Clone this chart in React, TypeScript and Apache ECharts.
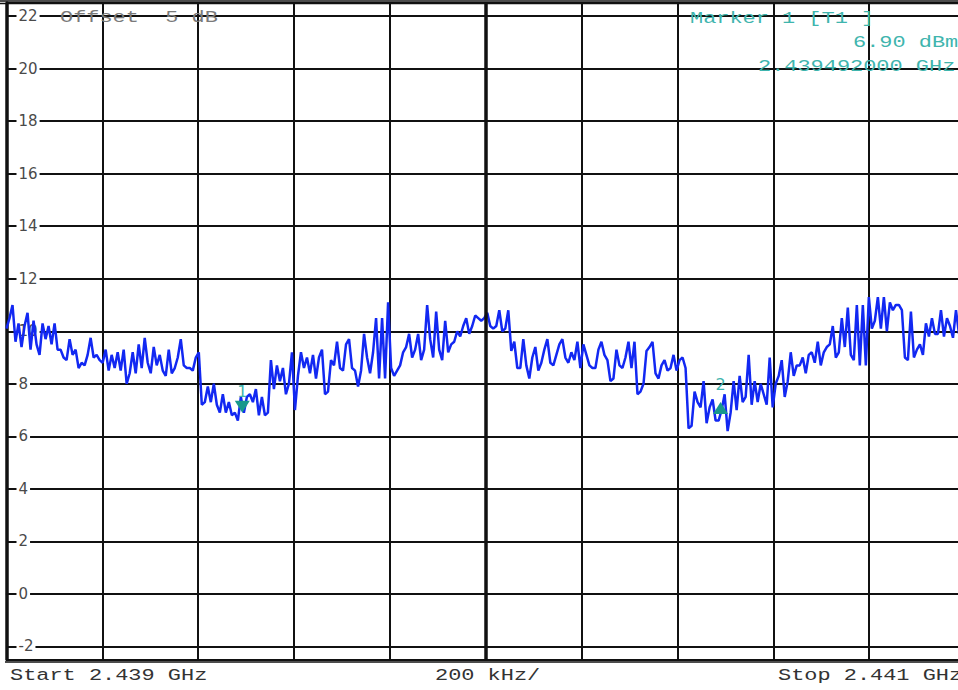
import React, { useEffect, useRef } from "react";
import * as echarts from "echarts";

// Sweep: 2.439 GHz .. 2.441 GHz, 200 kHz per division, trace levels in dBm
const START_GHZ = 2.439;
const SPAN_KHZ = 2000;
const DIV_KHZ = 200;

const levels: number[] = [
  10.1, 10.5, 11.0, 9.6, 10.3, 9.4, 10.2, 10.7, 9.3, 10.4,
  9.5, 9.1, 10.3, 9.7, 10.2, 9.5, 10.3, 9.3, 9.3, 9.0,
  8.9, 9.7, 9.1, 9.3, 8.6, 8.8, 8.7, 9.1, 9.75, 9.0,
  9.1, 8.9, 8.8, 9.3, 8.5, 9.1, 8.6, 9.2, 8.5, 9.3,
  8.0, 8.4, 9.2, 8.4, 9.5, 8.6, 9.75, 8.8, 8.4, 9.4,
  8.7, 9.1, 8.5, 8.3, 9.3, 8.4, 8.6, 9.0, 9.7, 8.7,
  8.6, 8.6, 8.5, 9.0, 9.2, 7.2, 7.3, 7.9, 7.3, 8.0,
  7.2, 6.9, 7.6, 6.9, 7.3, 6.8, 6.9, 6.6, 7.5, 6.9,
  7.5, 7.6, 7.3, 7.8, 6.8, 7.5, 6.8, 6.9, 8.9, 7.8,
  8.7, 8.1, 8.6, 7.6, 8.0, 9.2, 7.0, 8.3, 9.2, 8.6,
  9.0, 8.4, 9.1, 8.2, 9.0, 9.3, 7.6, 7.7, 8.9, 8.7,
  9.6, 8.6, 8.5, 9.5, 9.7, 8.6, 8.5, 7.9, 8.5, 9.9,
  9.0, 8.4, 9.2, 10.5, 8.2, 10.5, 8.2, 11.1, 8.6, 8.3,
  8.5, 8.7, 9.2, 9.4, 9.9, 9.0, 9.3, 9.9, 8.9, 9.3,
  11.0, 9.7, 9.0, 10.75, 9.3, 8.9, 10.4, 9.2, 9.5, 9.6,
  10.0, 9.8, 10.2, 10.5, 9.9, 10.2, 10.6, 10.5, 10.4, 10.5,
  10.7, 10.2, 10.1, 10.2, 10.8, 10.0, 10.1, 10.8, 9.25, 9.6,
  8.6, 8.6, 9.7, 8.7, 8.2, 9.0, 9.4, 8.5, 8.8, 9.3,
  9.7, 8.8, 8.7, 9.1, 9.5, 9.7, 9.0, 8.8, 9.2, 8.9,
  9.6, 8.6, 9.5, 9.1, 8.7, 8.6, 8.6, 9.3, 9.6, 9.1,
  8.9, 8.1, 8.2, 9.3, 8.7, 8.6, 9.0, 9.6, 8.6, 9.6,
  7.6, 7.7, 8.0, 9.25, 9.4, 9.6, 8.4, 8.2, 8.7, 8.9,
  8.5, 8.6, 9.1, 8.5, 8.9, 9.0, 8.6, 6.3, 6.4, 7.7,
  7.3, 7.1, 8.1, 6.5, 7.1, 7.4, 6.6, 6.6, 7.0, 7.6,
  6.2, 6.9, 8.1, 7.0, 8.3, 7.3, 7.5, 9.1, 7.2, 8.1,
  7.3, 8.0, 7.6, 7.2, 9.0, 7.1, 8.0, 8.3, 8.9, 7.5,
  8.1, 9.2, 8.3, 8.7, 8.7, 9.0, 8.4, 9.1, 9.2, 8.8,
  9.6, 8.7, 9.2, 9.4, 9.5, 10.2, 9.0, 9.2, 10.5, 9.4,
  10.9, 9.1, 8.9, 11.0, 8.7, 11.0, 8.7, 11.3, 10.1, 10.4,
  11.3, 10.1, 11.3, 10.0, 11.1, 10.8, 11.0, 11.0, 10.8, 9.0,
  8.9, 10.75, 9.0, 9.3, 9.5, 9.1, 10.3, 9.8, 10.5, 9.9,
  9.9, 10.8, 9.8, 10.5, 10.2, 9.75, 10.8, 9.9, 10.2, 10.0,
];

// Markers: frequency (GHz) and level (dBm)
const markerNames = ["1", "2"];
const markerFreqGHz = [2.439492, 2.44049];
const markerLevels = [6.9, 7.08];

// Level axis range (dBm)
const levelMin = -2.5;
const levelMax = 22.5;

// Annotation texts
const offsetText = "Offset  5 dB";
const markerInfo = ["Marker 1 [T1 ]", "6.90 dBm", "2.439492000 GHz"];
const footer = ["Start 2.439 GHz", "200 kHz/", "Stop 2.441 GHz"];

const MONO = "Liberation Mono";
const INK = "#111";
const TEAL = "#3fb5ae";

export default function App() {
  const ref = useRef<HTMLDivElement>(null);

  useEffect(() => {
    if (!ref.current) return;
    const chart = echarts.init(ref.current, undefined, { renderer: "svg" });

    const trace = levels.map((v, i) => [(i * SPAN_KHZ) / (levels.length - 1), v]);
    const toKHz = (ghz: number) => Math.round((ghz - START_GHZ) * 1e6 * 1000) / 1000;

    const monoText = (text: string, x: number, y: number, fill: string) => ({
      type: "text",
      x,
      y,
      scaleX: 1.29,
      z: 50,
      style: {
        text,
        font: `17px "${MONO}"`,
        fill,
        textAlign: "left",
        align: "left",
        textVerticalAlign: "middle",
        verticalAlign: "middle",
      },
    });

    chart.setOption({
      animation: false,
      backgroundColor: "#fff",
      // the sweep's last division runs a few pixels past the right edge
      grid: {
        left: 6.5,
        width: 958.5,
        top: 3,
        bottom: 30.5,
        containLabel: false,
        outerBoundsMode: "none",
      },
      xAxis: {
        type: "value",
        min: 0,
        max: SPAN_KHZ,
        interval: DIV_KHZ,
        axisLine: { show: true, lineStyle: { color: INK, width: 1.5 } },
        axisTick: { show: false },
        axisLabel: { show: false },
        splitLine: { show: true, lineStyle: { color: INK, width: 2 } },
      },
      yAxis: {
        type: "value",
        min: levelMin,
        max: levelMax,
        splitNumber: 12,
        axisLine: { show: true, onZero: false, lineStyle: { color: INK, width: 3.5 } },
        axisTick: { show: false },
        axisLabel: {
          inside: true,
          margin: 10,
          showMinLabel: false,
          showMaxLabel: false,
          color: "#4a4a4a",
          fontFamily: "DejaVu Sans",
          fontSize: 15,
          backgroundColor: "#fff",
          padding: [0, 2, 0, 2],
        },
        splitLine: { show: true, lineStyle: { color: INK, width: 2 } },
      },
      series: [
        {
          // centre frequency division line
          type: "line",
          data: [],
          z: 1,
          markLine: {
            silent: true,
            symbol: "none",
            label: { show: false },
            lineStyle: { color: INK, width: 3.5, type: "solid" },
            data: [{ xAxis: SPAN_KHZ / 2 }],
          },
        },
        {
          type: "line",
          data: trace,
          z: 3,
          showSymbol: false,
          symbol: "none",
          lineStyle: { color: "#1228f2", width: 2.5 },
          markPoint: {
            silent: true,
            data: markerNames.map((name, k) => ({
              coord: [toKHz(markerFreqGHz[k]), markerLevels[k]],
              symbol: "triangle",
              symbolRotate: k === 0 ? 180 : 0,
              symbolSize: [15, 12],
              symbolOffset: k === 0 ? [0, -6] : [0, 0],
              itemStyle: { color: "#17988c" },
              label: {
                show: true,
                formatter: name,
                position: "top",
                distance: k === 0 ? 1 : 9,
                color: TEAL,
                fontFamily: "DejaVu Sans",
                fontSize: 16,
              },
            })),
          },
        },
      ],
      graphic: [
        { type: "line", z: 40, shape: { x1: 0, y1: 1, x2: 958, y2: 1 }, style: { stroke: INK, lineWidth: 1.5 } },
        { type: "line", z: 40, shape: { x1: 0, y1: 3.5, x2: 958, y2: 3.5 }, style: { stroke: INK, lineWidth: 1.5 } },
        { type: "line", z: 40, shape: { x1: 5, y1: 662, x2: 958, y2: 662 }, style: { stroke: INK, lineWidth: 1.5 } },
        monoText(offsetText, 60, 18, "#7a7a7a"),
        monoText(markerInfo[0], 690, 19, TEAL),
        monoText(markerInfo[1], 853, 43, TEAL),
        monoText(markerInfo[2], 758, 67, TEAL),
        monoText(footer[0], 10, 676, "#333"),
        monoText(footer[1], 435, 676, "#333"),
        monoText(footer[2], 778, 676, "#333"),
      ],
    });

    return () => chart.dispose();
  }, []);

  return (
    <div
      ref={ref}
      style={{ position: "fixed", left: 0, top: 0, width: 958, height: 690, background: "#fff" }}
    />
  );
}
